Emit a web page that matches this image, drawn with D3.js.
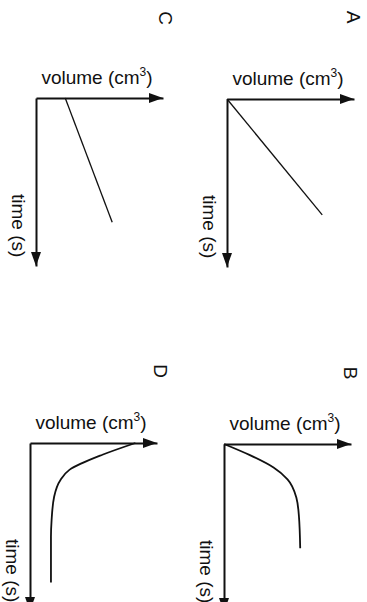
<!DOCTYPE html>
<html>
<head>
<meta charset="utf-8">
<script src="https://cdn.jsdelivr.net/npm/d3@7"></script>
<style>
  html, body { margin: 0; padding: 0; background: #fff; }
  svg { display: block; }
  text { font-family: "Liberation Sans", Arial, sans-serif; fill: #111; }
</style>
</head>
<body>
<div id="chart"></div>
<script>
// values are [volume, time] on a 0-10 scale for both axes
const letters = ["A", "B", "C", "D"];
const volumeLabel = "volume (cm";
const volumeSup = "3";
const timeLabel = "time (s)";

const lineA = [[0, 0], [7.5, 6.9]];
const lineB = [[0, 0], [2.0, 0.65], [3.9, 1.4], [5.0, 2.1], [5.7, 3.2], [5.9, 4.3], [6.0, 6.2]];
const lineC = [[2.3, 0], [6.0, 7.4]];
const lineD = [[8.3, 0], [5.7, 0.7], [3.1, 1.6], [2.4, 2.2], [1.9, 3.2], [1.7, 4.6], [1.65, 5.6], [1.65, 8.3]];

const W = 367, H = 602;

const panels = [
    { name: "A", data: lineA, ox: 227, oy: 99, curved: false, lw: 1.3 },
    { name: "B", data: lineB, ox: 224, oy: 444, curved: true, lw: 1.8 },
    { name: "C", data: lineC, ox: 36, oy: 98, curved: false, lw: 1.3 },
    { name: "D", data: lineD, ox: 30, oy: 443, curved: true, lw: 1.8 }
];
// where the rotated panel letters sit
const letterPos = { A: [354, 17], B: [351, 373], C: [166, 18], D: [161, 371] };

const svg = d3.select("#chart").append("svg")
    .attr("width", W)
    .attr("height", H);

const x = d3.scaleLinear().domain([0, 10]).range([0, 127]);
const y = d3.scaleLinear().domain([0, 10]).range([0, 168]);

panels.forEach(p => {
    const g = svg.append("g").attr("transform", `translate(${p.ox},${p.oy})`);

    // axes: just the domain lines, no ticks
    const xAxis = g.append("g")
        .call(d3.axisTop(x).tickValues([]).tickSizeOuter(0));
    xAxis.select(".domain").attr("stroke", "#111").attr("stroke-width", 2);

    const yAxis = g.append("g")
        .call(d3.axisLeft(y).tickValues([]).tickSizeOuter(0));
    yAxis.select(".domain").attr("stroke", "#111").attr("stroke-width", 2);

    // arrow heads
    const xe = x(10), ye = y(10);
    g.append("path")
        .attr("d", `M${xe},0L${xe - 14},-5L${xe - 14},5Z`)
        .attr("fill", "#111");
    g.append("path")
        .attr("d", `M0,${ye}L-5,${ye - 14}L5,${ye - 14}Z`)
        .attr("fill", "#111");

    // data line
    const line = d3.line()
        .x(d => x(d[0]))
        .y(d => y(d[1]))
        .curve(p.curved ? d3.curveMonotoneY : d3.curveLinear);

    g.append("path")
        .datum(p.data)
        .attr("d", line)
        .attr("fill", "none")
        .attr("stroke", "#111")
        .attr("stroke-width", p.lw);

    // volume label
    const vt = g.append("text")
        .attr("x", 61)
        .attr("y", -14)
        .attr("text-anchor", "middle")
        .style("font-size", "19px");
    vt.append("tspan").text(volumeLabel);
    vt.append("tspan").attr("dy", -8).style("font-size", "12px").text(volumeSup);
    vt.append("tspan").attr("dy", 8).text(")");

    // time label, rotated
    g.append("text")
        .attr("transform", `translate(-24,96) rotate(90)`)
        .style("font-size", "19px")
        .text(timeLabel);
});

letters.forEach(l => {
    const [lx, ly] = letterPos[l];
    svg.append("text")
        .attr("transform", `translate(${lx},${ly}) rotate(90)`)
        .attr("text-anchor", "middle")
        .attr("dy", "0.35em")
        .style("font-size", "19px")
        .text(l);
});
</script>
</body>
</html>
